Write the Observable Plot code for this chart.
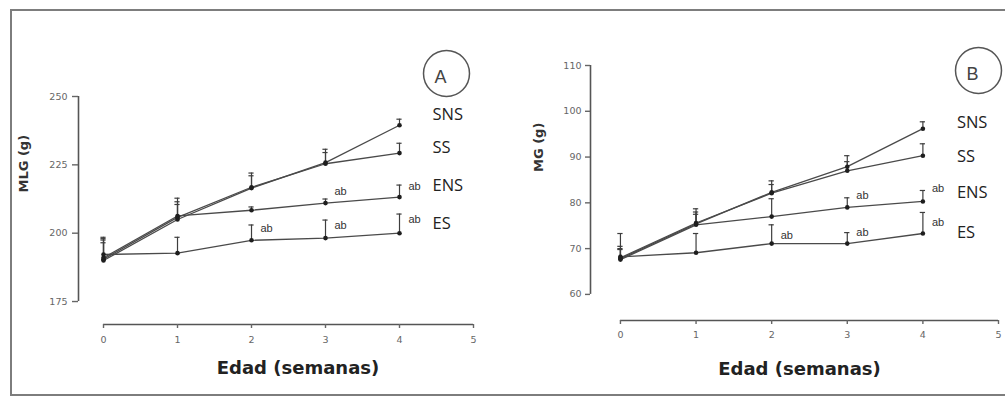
<!DOCTYPE html>
<html>
<head>
<meta charset="utf-8">
<script src="https://cdn.jsdelivr.net/npm/d3@7"></script>
<script src="https://cdn.jsdelivr.net/npm/@observablehq/plot@0.6"></script>
<style>
  html, body { margin: 0; padding: 0; background: #fff; }
  #wrap { position: relative; width: 1005px; height: 396px; overflow: hidden; background: #fff; }
  #frame { position: absolute; left: 10px; top: 9px; width: 1030px; height: 387px;
           border: 2.5px solid #7d7d7d; box-sizing: border-box; }
  .panel { position: absolute; top: 0; }
  .panel svg { overflow: visible; }
</style>
</head>
<body>
<div id="wrap">
  <div id="frame"></div>
  <div id="pa" class="panel" style="left:0px"></div>
  <div id="pb" class="panel" style="left:500px"></div>
</div>
<script>
// ---------- data ----------
const weeks = [0, 1, 2, 3, 4];
const xTicks = [0, 1, 2, 3, 4, 5];
const seriesNames = ["SNS", "SS", "ENS", "ES"];

// Panel A: MLG (g)
const yTicksA = [175, 200, 225, 250];
const A_SNS = [190.0, 205.0, 216.5, 225.8, 239.5];
const A_SS  = [190.5, 205.8, 216.8, 225.4, 229.3];
const A_ENS = [191.0, 206.3, 208.4, 211.0, 213.2];
const A_ES  = [192.2, 192.7, 197.4, 198.2, 200.0];
const A_SNS_se = [8.5, 7.8, 5.5, 4.9, 2.2];
const A_SS_se  = [7.0, 5.7, 4.2, 4.1, 3.6];
const A_ENS_se = [5.5, 4.2, 1.2, 1.5, 4.4];
const A_ES_se  = [5.8, 5.8, 5.6, 6.6, 7.0];
const abWeeksA = [2, 3, 3, 4, 4];

// Panel B: MG (g)
const yTicksB = [60, 70, 80, 90, 100, 110];
const B_SNS = [67.8, 75.4, 82.3, 87.9, 96.2];
const B_SS  = [68.0, 75.6, 82.1, 87.0, 90.3];
const B_ENS = [67.6, 75.2, 77.0, 79.0, 80.3];
const B_ES  = [68.2, 69.1, 71.1, 71.1, 73.3];
const B_SNS_se = [2.0, 3.3, 2.5, 2.4, 1.5];
const B_SS_se  = [2.5, 2.4, 1.9, 2.0, 2.6];
const B_ENS_se = [2.4, 2.3, 3.9, 2.1, 2.4];
const B_ES_se  = [5.1, 4.2, 4.1, 2.4, 4.6];
const abWeeksB = [2, 3, 3, 4, 4];

// ---------- layout (positions, not data) ----------
const layoutA = {
  width: 500, marginLeft: 78, marginRight: 27, marginTop: 96, marginBottom: 72,
  xDomain: [-0.338, 5], yDomain: [166.6, 250],
  labelY: [243.4, 231.3, 217.4, 203.5], labelDx: 33,
  abY: [201.8, 215.4, 203.0, 217.0, 205.0],
  tickSize: 6, tickPadding: 5, xTickPadding: 8,
  yLabelDx: -55, yLabelDy: -18, xLabelDx: 22, xLabelDy: 49,
  circleDx: -27, circleDy: -23
};
const layoutB = {
  width: 505, marginLeft: 90, marginRight: 7, marginTop: 65, marginBottom: 76,
  xDomain: [-0.396, 5], yDomain: [54.3, 110],
  labelY: [97.55, 90.1, 82.3, 73.5], labelDx: 34,
  abY: [72.8, 81.6, 73.5, 83.1, 75.7],
  tickSize: 5, tickPadding: 4, xTickPadding: 7,
  yLabelDx: -52, yLabelDy: -21, xLabelDx: 5, xLabelDy: 54,
  circleDx: -20, circleDy: 5
};

function makePanel(means, ses, yTicks, yLabel, letter, abWeeks, L) {
  const rows = [];
  seriesNames.forEach((s, i) => {
    means[i].forEach((v, j) => rows.push({series: s, week: weeks[j], value: v, up: v + ses[i][j]}));
  });
  const xMin = L.xDomain[0], yMin = L.yDomain[0];
  const lastWeek = weeks[weeks.length - 1];
  const cap = 0.035;
  const ink = "#3e3e3e";
  return Plot.plot({
    width: L.width, height: 396,
    marginLeft: L.marginLeft, marginRight: L.marginRight,
    marginTop: L.marginTop, marginBottom: L.marginBottom,
    x: {domain: L.xDomain},
    y: {domain: L.yDomain},
    style: {fontFamily: "'DejaVu Sans', sans-serif", background: "transparent", overflow: "visible"},
    marks: [
      // axis lines
      Plot.ruleX([xMin], {y1: yTicks[0], y2: yTicks[yTicks.length - 1], stroke: "#555", strokeWidth: 1.6}),
      Plot.ruleY([yMin], {x1: xTicks[0], x2: xTicks[xTicks.length - 1], stroke: "#555", strokeWidth: 1.6}),
      Plot.axisY({ticks: yTicks, tickSize: L.tickSize, tickPadding: L.tickPadding, label: null,
                  tickFormat: d3.format("d"), fontSize: 9.5, color: "#666", strokeWidth: 1.4}),
      Plot.axisX({ticks: xTicks, tickSize: 4, tickPadding: L.xTickPadding, label: null,
                  tickFormat: d3.format("d"), fontSize: 9.5, color: "#666", strokeWidth: 1.4}),
      // error bars
      Plot.ruleX(rows, {x: "week", y1: "value", y2: "up", stroke: ink, strokeWidth: 1.2}),
      Plot.ruleY(rows, {y: "up", x1: d => d.week - cap, x2: d => d.week + cap, stroke: ink, strokeWidth: 1.2}),
      // lines + markers
      Plot.line(rows, {x: "week", y: "value", z: "series", stroke: "#4a4a4a", strokeWidth: 1.3}),
      Plot.dot(rows, {x: "week", y: "value", r: 2.3, fill: "#1e1e1e"}),
      // series labels
      Plot.text(seriesNames, {x: () => lastWeek, y: (d, i) => L.labelY[i], text: d => d,
                textAnchor: "start", dx: L.labelDx, fontSize: 16.5,
                fontFamily: "'Open Sans', sans-serif", fill: "#222"}),
      // significance labels
      Plot.text(abWeeks, {x: d => d, y: (d, i) => L.abY[i], text: () => "ab",
                textAnchor: "start", dx: 9, fontSize: 11, fill: "#333",
                fontFamily: "'Liberation Sans', sans-serif"}),
      // circled panel letter
      Plot.dot([letter], {frameAnchor: "top-right", dx: L.circleDx, dy: L.circleDy, r: 23,
               stroke: "#555", strokeWidth: 1.5, fill: "none"}),
      Plot.text([letter], {frameAnchor: "top-right", dx: L.circleDx, dy: L.circleDy - 3, text: d => d,
                fontSize: 18, fill: "#444", fontFamily: "'Liberation Sans', sans-serif"}),
      // axis titles
      Plot.text([yLabel], {frameAnchor: "left", rotate: -90, dx: L.yLabelDx, dy: L.yLabelDy, text: d => d,
                fontSize: 13, fontWeight: "bold", fill: "#333"}),
      Plot.text(["Edad (semanas)"], {frameAnchor: "bottom", dx: L.xLabelDx, dy: L.xLabelDy, text: d => d,
                fontSize: 18, fontWeight: "bold", fill: "#222"})
    ]
  });
}

document.getElementById("pa").append(
  makePanel([A_SNS, A_SS, A_ENS, A_ES], [A_SNS_se, A_SS_se, A_ENS_se, A_ES_se],
            yTicksA, "MLG (g)", "A", abWeeksA, layoutA));
document.getElementById("pb").append(
  makePanel([B_SNS, B_SS, B_ENS, B_ES], [B_SNS_se, B_SS_se, B_ENS_se, B_ES_se],
            yTicksB, "MG (g)", "B", abWeeksB, layoutB));
</script>
</body>
</html>
